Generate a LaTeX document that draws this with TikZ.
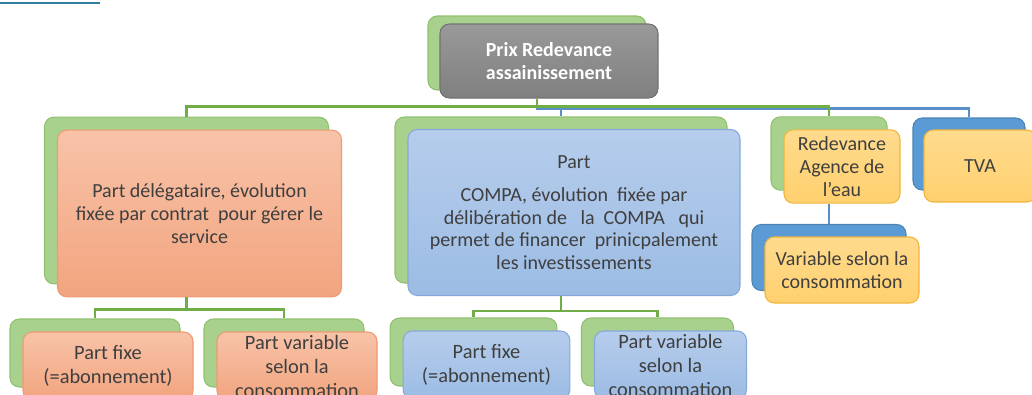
\documentclass[tikz,border=0pt]{standalone}
\usepackage{fontspec}
\setmainfont{Carlito}
\definecolor{grfill}{HTML}{A9D18E}
\definecolor{grline}{HTML}{8FC06E}
\definecolor{grcon}{HTML}{70AD47}
\definecolor{blfill}{HTML}{5B9BD5}
\definecolor{blcon}{HTML}{5A8EC8}
\definecolor{txt}{HTML}{3F3F3F}
\definecolor{teal}{HTML}{2F7F9C}
\definecolor{sahaut}{HTML}{F8C3A8}
\definecolor{sabas}{HTML}{F2A47F}
\definecolor{saline}{HTML}{EE9A72}
\definecolor{blhaut}{HTML}{B6CDEC}
\definecolor{blbas}{HTML}{9CBCE4}
\definecolor{blline}{HTML}{86A9DA}
\definecolor{jahaut}{HTML}{FFDB8E}
\definecolor{jabas}{HTML}{FFD06E}
\definecolor{jaline}{HTML}{F0B63C}
\begin{document}
\begin{tikzpicture}[x=0.75pt,y=-0.75pt]

    \tikzset{box/.style={draw,rounded corners=7pt,line width=0.8pt,align=center,inner sep=2pt,text=txt,font=\fontsize{15}{17}\selectfont},
             gback/.style={box,fill=grfill,draw=grline},
             bback/.style={box,fill=blfill,draw=blfill!85!black},
             gris/.style={box,top color=gray!80,bottom color=gray!100,draw=gray!90!black,text=white,font=\fontsize{15}{17}\selectfont\bfseries},
             saumon/.style={box,top color=sahaut,bottom color=sabas,draw=saline},
             bleu/.style={box,top color=blhaut,bottom color=blbas,draw=blline},
             jaune/.style={box,top color=jahaut,bottom color=jabas,draw=jaline},
             petit/.style={font=\fontsize{15.3}{18}\selectfont},
             green line/.style={draw=grcon,line width=2pt},
             blue line/.style={draw=blcon,line width=2pt}}

    \clip (0,0) rectangle (1032,394);
    \draw[teal,line width=2pt] (0,3) -- (100,3);

    % top
    \node[gback,minimum width=163.5pt,minimum height=55.5pt] (g0) at (537,53) {};
    \node[gris,minimum width=163.5pt,minimum height=55.5pt] (p0) at ([shift={(12,8)}]g0.center) {Prix Redevance\\assainissement};

    % second row
    \node[gback,minimum width=213pt,minimum height=125pt] (g1) at (186.5,200.5) {};
    \node[saumon,minimum width=213pt,minimum height=125pt] (p1) at ([shift={(13,13)}]g1.center) {Part délégataire, évolution\\fixée par contrat\ \ pour gérer le\\service};

    \node[gback,minimum width=249pt,minimum height=124.5pt] (g2) at (561,200) {};
    \node[bleu,minimum width=249pt,minimum height=124.5pt] (p2) at ([shift={(13,12.5)}]g2.center) {Part\\[8pt]COMPA, évolution\ \ fixée par\\délibération de\ \ \ la\ \ COMPA\ \ \ qui\\permet de financer\ \ prinicpalement\\les investissements};

    \node[gback,minimum width=87pt,minimum height=55pt] (g3) at (829,153.5) {};
    \node[jaune,minimum width=87pt,minimum height=55pt] (p3) at ([shift={(13,13)}]g3.center) {Redevance\\Agence de\\l’eau};

    \node[bback,minimum width=84pt,minimum height=54pt] (g4) at (969,154) {};
    \node[jaune,minimum width=84pt,minimum height=54pt] (p4) at ([shift={(11,12)}]g4.center) {TVA};

    \node[bback,minimum width=115.5pt,minimum height=49.5pt] (g5) at (829,257.5) {};
    \node[jaune,minimum width=115.5pt,minimum height=49.5pt] (p5) at ([shift={(13,12.5)}]g5.center) {Variable selon la\\consommation};

    % third row
    \node[gback,minimum width=127.5pt,minimum height=51pt] (g11) at (95,353) {};
    \node[saumon,petit,minimum width=127.5pt,minimum height=51pt] (p11) at ([shift={(13,13)}]g11.center) {Part fixe\\(=abonnement)};
    \node[gback,minimum width=120pt,minimum height=51pt] (g12) at (284,353) {};
    \node[saumon,petit,minimum width=120pt,minimum height=51pt] (p12) at ([shift={(13,13)}]g12.center) {Part variable\\selon la\\consommation};

    \node[gback,minimum width=125pt,minimum height=51pt] (g21) at (473.5,352) {};
    \node[bleu,petit,minimum width=125pt,minimum height=51pt] (p21) at ([shift={(13,13)}]g21.center) {Part fixe\\(=abonnement)};
    \node[gback,minimum width=114pt,minimum height=51pt] (g22) at (657.5,352) {};
    \node[bleu,petit,minimum width=114pt,minimum height=51pt] (p22) at ([shift={(13,13)}]g22.center) {Part variable\\selon la\\consommation};

    % links
    \draw[blue line] (g0.south |- p0.south) -- ++(0,10) -| (g2.north);
    \draw[blue line] (g0.south |- p0.south) -- ++(0,10) -| (g4.north);
    \draw[green line] (g0.south |- p0.south) -- ++(0,8) -| (g1.north);
    \draw[green line] (g0.south |- p0.south) -- ++(0,8) -| (g3.north);
    \draw[blue line] (g3.south |- p3.south) -- (g5.north);

    \draw[green line] (g1.south |- p1.south) -- ++(0,12) -| (g11.north);
    \draw[green line] (g1.south |- p1.south) -- ++(0,12) -| (g12.north);
    \draw[green line] (g2.south |- p2.south) -- ++(0,15) -| (g21.north);
    \draw[green line] (g2.south |- p2.south) -- ++(0,15) -| (g22.north);

\end{tikzpicture}
\end{document}
